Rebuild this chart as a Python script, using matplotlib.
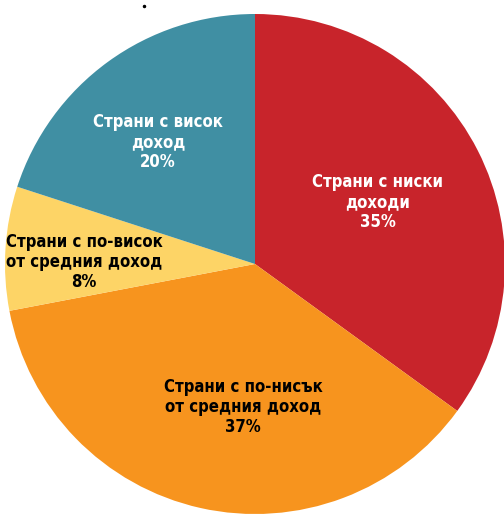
import matplotlib.pyplot as plt

# данни
labels = ["Страни с ниски\nдоходи", "Страни с по-нисък\nот средния доход",
          "Страни с по-висок\nот средния доход", "Страни с висок\nдоход"]
values = [35, 37, 8, 20]
colors = ["#C8242B", "#F7941E", "#FDD466", "#408FA3"]
text_colors = ["white", "black", "black", "white"]
# позиции на надписите (пиксели от горния ляв ъгъл)
label_pos = [(378, 202), (243, 407), (84, 262), (158, 142)]

W, H = 504, 514
fig = plt.figure(figsize=(W / 100, H / 100), dpi=100)
ax = fig.add_axes([0, 0, 1, 1])

cx, cy, r = 255, 264, 250
ax.pie(values, colors=colors, startangle=90, counterclock=False,
       center=(cx, H - cy), radius=r, wedgeprops=dict(linewidth=0))
ax.set_xlim(0, W)
ax.set_ylim(0, H)
ax.axis("off")

for lab, v, tc, (x, y) in zip(labels, values, text_colors, label_pos):
    ax.text(x, H - y, f"{lab}\n{v}%", ha="center", va="center", color=tc,
            fontsize=12, fontweight="bold", linespacing=1.13,
            fontstretch="condensed",
            family=["DejaVu Sans"])

# малка точка горе
ax.plot([144], [H - 6], marker="o", markersize=1.5, color="black")

fig.savefig("out.png", dpi=100)
